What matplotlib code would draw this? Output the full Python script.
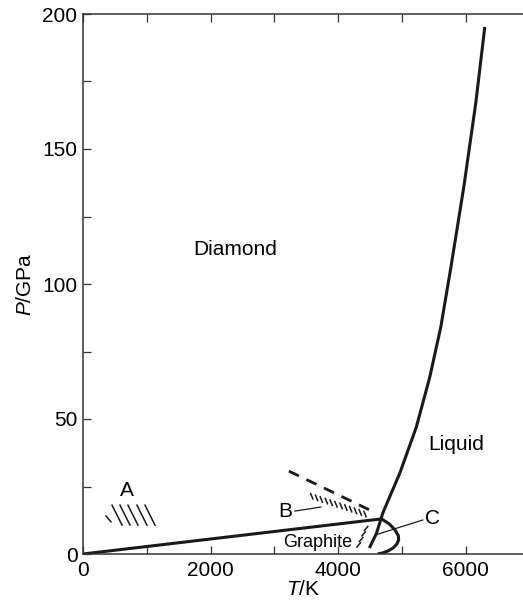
import matplotlib.pyplot as plt

plt.rcParams['font.family'] = ['Liberation Sans', 'DejaVu Sans']
plt.rcParams['mathtext.fontset'] = 'custom'
plt.rcParams['mathtext.rm'] = 'Liberation Sans'
plt.rcParams['mathtext.it'] = 'Liberation Sans:italic'

# graphite / diamond boundary
gd_T = [0, 4680]
gd_P = [0, 13]

# diamond melting curve (incl. metastable extension below triple point)
dm_T = [4490, 4600, 4702, 4969, 5227, 5439, 5611, 5768, 5972, 6160, 6301]
dm_P = [2.2, 7.5, 15.2, 30.0, 47.0, 65.6, 84.1, 106.0, 136.0, 167.1, 195.2]

# graphite melting curve
gm_T = [4680, 4800, 4890, 4945, 4950, 4920, 4860, 4780, 4700, 4620]
gm_P = [13, 11.2, 9.0, 6.8, 5.2, 3.6, 2.2, 1.1, 0.4, 0]

# dashed line
dash_T = [3229, 4592]
dash_P = [30.7, 15.2]

# hatch strokes (start points)
hatchA_T = [455, 580, 705, 846, 972]
hatchA_P = [18.1, 18.1, 18.1, 18.1, 18.1]
hatchA_short = ([360, 439], [14.1, 11.9])
hatchB_T = [3570, 3645, 3720, 3800, 3875, 3950, 4030, 4105, 4180, 4255, 4330, 4405]
hatchB_P = [22.4, 21.8, 21.2, 20.6, 20.0, 19.4, 18.8, 18.2, 17.6, 17.0, 16.4, 15.8]
hatchC_T = [4295, 4334, 4373, 4412]
hatchC_P = [2.6, 4.6, 6.7, 8.7]

# leader lines
leadB = ([3323, 3730], [15.9, 17.4])
leadC = ([4577, 5329], [7.0, 12.6])

fig = plt.figure(figsize=(5.23, 6.01), dpi=100)
ax = fig.add_axes([83 / 523, 47 / 601, 440 / 523, 540 / 601])

lc = '#1a1a1a'
ax.plot(gd_T, gd_P, color=lc, lw=2.2, solid_capstyle='butt')
ax.plot(dm_T, dm_P, color=lc, lw=2.2, solid_capstyle='butt', solid_joinstyle='round')
ax.plot(gm_T, gm_P, color=lc, lw=2.2, solid_capstyle='butt', solid_joinstyle='round')
ax.plot(dash_T, dash_P, color=lc, lw=2.0, dashes=(4, 3))

for t, p in zip(hatchA_T, hatchA_P):
    ax.plot([t, t + 157], [p, p - 7.4], color=lc, lw=1.1)
ax.plot(*hatchA_short, color=lc, lw=1.1)
for t, p in zip(hatchB_T, hatchB_P):
    ax.plot([t, t + 35], [p, p - 2.0], color=lc, lw=1.1)
for t, p in zip(hatchC_T, hatchC_P):
    ax.plot([t, t + 55], [p, p + 1.5], color=lc, lw=1.1)

ax.plot(*leadB, color=lc, lw=0.9)
ax.plot(*leadC, color=lc, lw=0.9)

ax.text(2382, 112.6, 'Diamond', fontsize=15, ha='center', va='center')
ax.text(5860, 40.4, 'Liquid', fontsize=15, ha='center', va='center')
ax.text(3683, 4.1, 'Graphite', fontsize=13, ha='center', va='center')
ax.text(690, 23.7, 'A', fontsize=15, ha='center', va='center')
ax.text(3166, 15.6, 'B', fontsize=15, ha='center', va='center')
ax.text(5486, 13.3, 'C', fontsize=15, ha='center', va='center')

ax.set_xlim(0, 6900)
ax.set_ylim(0, 200)
ax.set_xticks([0, 2000, 4000, 6000])
ax.set_xticks([1000, 3000, 5000], minor=True)
ax.set_yticks([0, 50, 100, 150, 200])
ax.set_yticks([25, 75, 125, 175], minor=True)
ax.tick_params(which='both', direction='in', length=5.5, width=0.9, color='#333333',
               top=True, labelsize=15)
ax.tick_params(axis='x', pad=5)
ax.tick_params(axis='y', pad=4)
ax.spines['right'].set_visible(False)
for s in ['left', 'bottom', 'top']:
    ax.spines[s].set_linewidth(1.1)
    ax.spines[s].set_color('#333333')

ax.set_xlabel('$T$/K', fontsize=15)
ax.set_ylabel('$P$/GPa', fontsize=15)
ax.xaxis.set_label_coords(0.5, -0.048)
ax.yaxis.set_label_coords(-0.108, 0.5)

fig.savefig('out.png', dpi=100)
